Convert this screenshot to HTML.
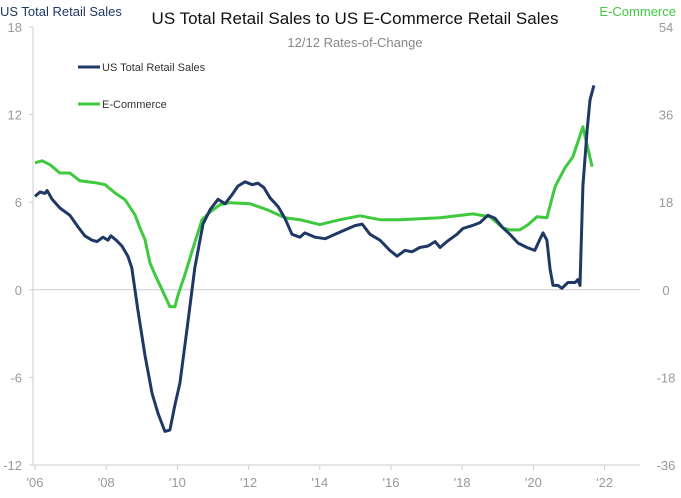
<!DOCTYPE html>
<html><head><meta charset="utf-8"><style>
body{margin:0;background:#fff;font-family:"Liberation Sans",sans-serif}
svg text{font-family:"Liberation Sans",sans-serif}
</style></head><body>
<svg id="chart" width="681" height="493" viewBox="0 0 681 493">
<text x="355" y="24" text-anchor="middle" font-size="17" fill="#111">US Total Retail Sales to US E-Commerce Retail Sales</text>
<text x="355" y="47" text-anchor="middle" font-size="13" fill="#888">12/12 Rates-of-Change</text>
<text x="0" y="16" font-size="13" fill="#1f3864">US Total Retail Sales</text>
<text x="676" y="16" text-anchor="end" font-size="13" fill="#3ec93e">E-Commerce</text>
<g id="axes"></g>
<g id="series"></g>
<g>
<line x1="78" y1="67" x2="100" y2="67" stroke="#1f3864" stroke-width="3"/>
<text x="102" y="71" font-size="11" fill="#333">US Total Retail Sales</text>
<line x1="78" y1="104" x2="100" y2="104" stroke="#3ec93e" stroke-width="3"/>
<text x="102" y="108" font-size="11" fill="#333">E-Commerce</text>
</g>
</svg>
<script>
const leftTicks=[18,12,6,0,-6,-12];
const rightTicks=[54,36,18,0,-18,-36];
const xTickYears=[2006,2008,2010,2012,2014,2016,2018,2020,2022];
const xTickLabels=["'06","'08","'10","'12","'14","'16","'18","'20","'22"];
const retailYears=[2006.00,2006.14,2006.28,2006.34,2006.48,2006.70,2006.98,2007.21,2007.40,2007.60,2007.74,2007.91,2008.05,2008.13,2008.28,2008.44,2008.61,2008.72,2008.89,2009.09,2009.29,2009.46,2009.65,2009.79,2009.93,2010.07,2010.27,2010.49,2010.72,2010.92,2011.14,2011.34,2011.53,2011.70,2011.90,2012.10,2012.26,2012.43,2012.60,2012.83,2013.02,2013.22,2013.44,2013.58,2013.87,2014.15,2014.43,2014.71,2014.99,2015.19,2015.41,2015.69,2015.97,2016.17,2016.39,2016.59,2016.81,2017.04,2017.24,2017.38,2017.57,2017.85,2018.02,2018.28,2018.50,2018.72,2018.92,2019.12,2019.34,2019.57,2019.82,2020.04,2020.19,2020.27,2020.38,2020.47,2020.55,2020.69,2020.80,2020.97,2021.17,2021.25,2021.31,2021.39,2021.51,2021.59,2021.70];
const retailValues=[6.4,6.7,6.6,6.8,6.2,5.6,5.1,4.3,3.7,3.4,3.3,3.6,3.4,3.7,3.4,3.0,2.3,1.5,-1.4,-4.5,-7.1,-8.5,-9.7,-9.6,-7.9,-6.4,-2.7,1.5,4.5,5.5,6.2,5.9,6.5,7.1,7.4,7.2,7.3,7.0,6.3,5.7,4.9,3.8,3.6,3.9,3.6,3.5,3.8,4.1,4.4,4.5,3.8,3.4,2.7,2.3,2.7,2.6,2.9,3.0,3.3,2.9,3.3,3.8,4.2,4.4,4.6,5.1,4.9,4.3,3.8,3.2,2.9,2.7,3.5,3.9,3.4,1.4,0.3,0.3,0.1,0.5,0.5,0.7,0.3,7.1,11.0,13.0,14.0];
const ecomYears=[2006.00,2006.20,2006.42,2006.70,2006.98,2007.26,2007.69,2007.97,2008.25,2008.53,2008.81,2008.95,2009.09,2009.23,2009.37,2009.57,2009.79,2009.93,2010.02,2010.21,2010.44,2010.69,2010.92,2011.20,2011.48,2012.04,2012.54,2013.02,2013.44,2014.00,2014.57,2015.13,2015.69,2016.25,2016.81,2017.38,2018.30,2018.78,2019.15,2019.34,2019.62,2019.85,2020.10,2020.38,2020.61,2020.89,2021.11,2021.39,2021.65];
const ecomValues=[26.1,26.5,25.7,24.0,24.0,22.4,22.0,21.6,19.9,18.5,15.4,12.7,10.3,5.5,3.1,0,-3.5,-3.5,-1.0,3.1,8.6,14.4,16.0,17.5,17.9,17.7,16.4,14.8,14.4,13.4,14.4,15.2,14.4,14.4,14.6,14.8,15.6,15.0,12.7,12.3,12.3,13.4,15.0,14.8,21.2,25.1,27.3,33.5,25.3];

const NS="http://www.w3.org/2000/svg";
const X0=35,PXY=35.6,YT=27,YB=465,XL=33,XR=640;
function xs(y){return X0+(y-2006)*PXY;}
function yl(v){return YT+(18-v)*(YB-YT)/30;}
function yr(v){return YT+(54-v)*(YB-YT)/90;}
function mk(tag,attrs,parent){const e=document.createElementNS(NS,tag);for(const k in attrs)e.setAttribute(k,attrs[k]);parent.appendChild(e);return e;}
const axes=document.getElementById('axes');
let e;
e=mk('line',{x1:XL,y1:yl(0),x2:XR,y2:yl(0),stroke:'#ccc','stroke-width':1},axes);


e=mk('line',{x1:XL,y1:YT,x2:XL,y2:YB,stroke:'#ccc','stroke-width':1},axes);


e=mk('line',{x1:XL,y1:YB,x2:XR,y2:YB,stroke:'#ccc','stroke-width':1},axes);


leftTicks.forEach(v=>{
 const t=mk('text',{x:22,y:yl(v)+5,'text-anchor':'end','font-size':13,fill:'#999'},axes);t.textContent=v;
 
 
 const l=mk('line',{x1:XL-4,y1:yl(v),x2:XL,y2:yl(v),stroke:'#ccc'},axes);
 
 
});
rightTicks.forEach(v=>{
 const t=mk('text',{x:666,y:yr(v)+5,'text-anchor':'middle','font-size':13,fill:'#999'},axes);t.textContent=v;
 
 
});
xTickYears.forEach((yv,i)=>{
 const t=mk('text',{x:xs(yv),y:487,'text-anchor':'middle','font-size':13,fill:'#999'},axes);t.textContent=xTickLabels[i];
 
 
 const l=mk('line',{x1:xs(yv),y1:YB,x2:xs(yv),y2:YB+5,stroke:'#ccc'},axes);
 
 
});
const ser=document.getElementById('series');
const gp=ecomYears.map((y,i)=>xs(y).toFixed(1)+','+yr(ecomValues[i]).toFixed(1)).join(' ');
e=mk('polyline',{points:gp,fill:'none',stroke:'#3ec93e','stroke-width':3,'stroke-linejoin':'round'},ser);


const rp=retailYears.map((y,i)=>xs(y).toFixed(1)+','+yl(retailValues[i]).toFixed(1)).join(' ');
e=mk('polyline',{points:rp,fill:'none',stroke:'#1f3864','stroke-width':3,'stroke-linejoin':'round'},ser);


</script>
</body></html>
